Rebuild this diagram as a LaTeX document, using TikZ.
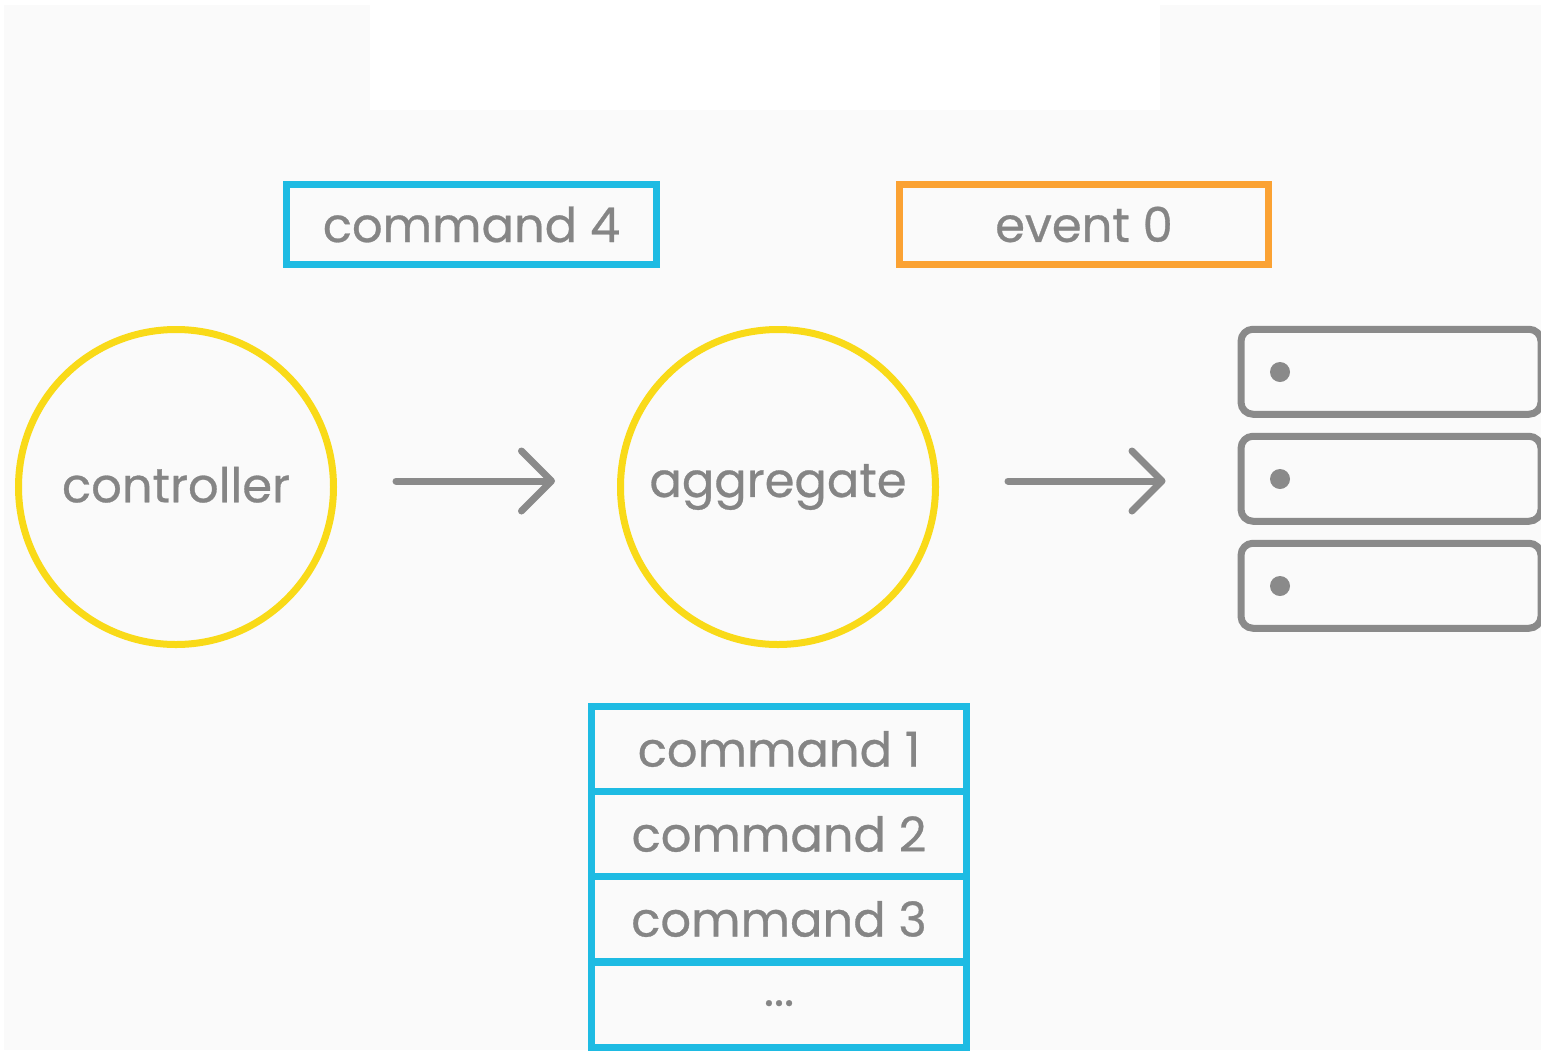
\documentclass[tikz,border=0pt]{standalone}
\usepackage{fontspec}
\setmainfont{Poppins}
\newfontfamily\lblfont{Poppins}[FakeBold=0.6]
\usetikzlibrary{arrows.meta}
\definecolor{ygold}{HTML}{F9DA18}
\definecolor{cyanb}{HTML}{1EBBE3}
\definecolor{orng}{HTML}{FBA233}
\definecolor{gtext}{HTML}{858585}
\definecolor{gline}{HTML}{8A8A8A}
\definecolor{bgc}{HTML}{FAFAFA}
\tikzset{
  lbl/.style={text=gtext, font=\lblfont\fontsize{48}{54}\selectfont},
  actor/.style={circle, draw=ygold, line width=7pt, minimum size=315pt, inner sep=0pt, lbl},
  cmdbox/.style={draw=cyanb, line width=7pt, minimum width=370pt, minimum height=80pt, inner sep=0pt, lbl},
  evbox/.style={draw=orng, line width=7pt, minimum width=369pt, minimum height=80pt, inner sep=0pt, lbl},
  stackrow/.style={draw=cyanb, line width=7pt, minimum width=375pt, minimum height=85pt, inner sep=0pt, lbl},
  rackbox/.style={draw=gline, line width=7pt, rounded corners=12pt, minimum width=300pt, minimum height=85pt, inner sep=0pt},
  flow/.style={draw=gline, line width=7pt, line cap=round, line join=round,
    -{Straight Barb[length=30pt, width=60pt, round]}},
}
\begin{document}
\begin{tikzpicture}[x=1pt,y=-1pt]
\useasboundingbox (0,0) rectangle (1541,1050);
\fill[white] (0,0) rectangle (1541,1050);
\fill[bgc] (4,5) rectangle (1541,1050);
\fill[white] (370,0) rectangle (1160,110);

\node[cmdbox] (cmd4) at (471.5,224.5) {command 4};
\node[evbox] (ev0) at (1084,224.5) {event 0};

\node[actor] (ctrl) at (176,487) {\raisebox{5pt}{controller}};
\node[actor] (agg) at (778,487) {\raisebox{5pt}{aggregate}};

\node[rackbox] (rack1) at (1391,371.75) {};
\node[rackbox] (rack2) at (1391,478.75) {};
\node[rackbox] (rack3) at (1391,585.75) {};
\fill[gline] (1280,372) circle (10pt) (1280,479) circle (10pt) (1280,586) circle (10pt);

\node[stackrow] (c1) at (779,749) {command 1};
\node[stackrow] (c2) at (779,834) {command 2};
\node[stackrow] (c3) at (779,919) {command 3};
\node[stackrow] (c4) at (779,1004.5) {\raisebox{3pt}{...}};

\draw[flow, shorten <=59pt, shorten >=62pt] (ctrl.east |- 0,481) -- (agg.west |- 0,481);
\draw[flow, shorten <=69pt, shorten >=72pt] (agg.east |- 0,481) -- (rack2.west |- 0,481);
\end{tikzpicture}
\end{document}
